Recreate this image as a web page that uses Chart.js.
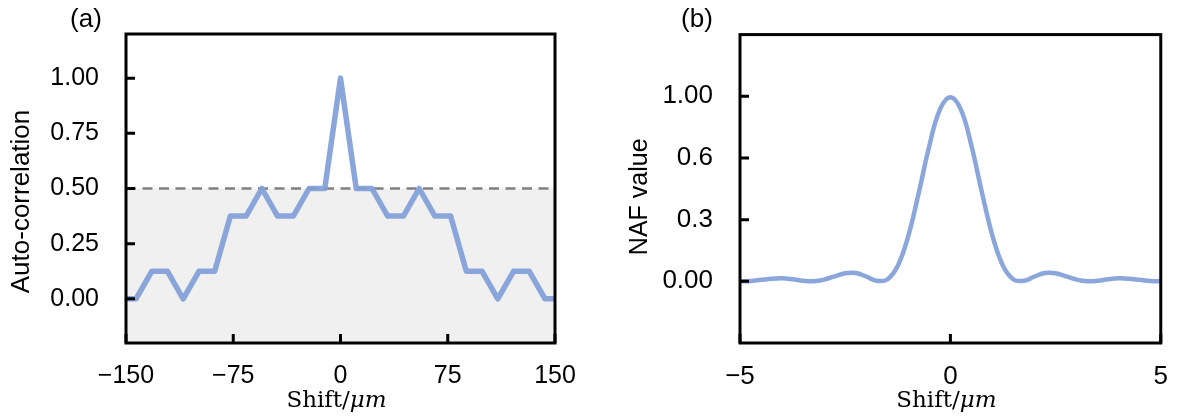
<!DOCTYPE html>
<html>
<head>
<meta charset="utf-8">
<script src="https://cdn.jsdelivr.net/npm/chart.js@4.4.1/dist/chart.umd.min.js"></script>
<style>
  html, body { margin: 0; padding: 0; background: #ffffff; }
  #wrap { position: relative; width: 1178px; height: 418px; overflow: hidden; }
  .panel { position: absolute; top: 0; width: 589px; height: 418px; }
  #pa { left: 0; }
  #pb { left: 589px; }
</style>
</head>
<body>
<div id="wrap">
  <div class="panel" id="pa"><canvas id="chartA" width="589" height="418"></canvas></div>
  <div class="panel" id="pb"><canvas id="chartB" width="589" height="418"></canvas></div>
</div>
<script>
// ---------- Panel (a) data ----------
const shiftA = [-150, -143, -132, -121, -110, -99, -88, -77, -66, -55, -44, -33, -22, -11, 0,
                11, 22, 33, 44, 55, 66, 77, 88, 99, 110, 121, 132, 143, 150];
const autoCorr = [0, 0, 0.125, 0.125, 0, 0.125, 0.125, 0.375, 0.375, 0.5, 0.375, 0.375, 0.5, 0.5, 1.0,
                  0.5, 0.5, 0.375, 0.375, 0.5, 0.375, 0.375, 0.125, 0.125, 0, 0.125, 0.125, 0, 0];
const xTicksA = [-150, -75, 0, 75, 150];
const yTicksA = [0, 0.25, 0.5, 0.75, 1.0];
const yTickLabelsA = ['0.00', '0.25', '0.50', '0.75', '1.00'];
const thresholdA = 0.5;

// ---------- Panel (b) data ----------
const shiftB = [-5, -4.75, -4.5, -4.25, -4, -3.75, -3.5, -3.25, -3, -2.75, -2.5, -2.25, -2, -1.75, -1.5, -1.25,
                -1, -0.75, -0.5, -0.25, 0, 0.25, 0.5, 0.75, 1, 1.25, 1.5, 1.75, 2, 2.25, 2.5, 2.75,
                3, 3.25, 3.5, 3.75, 4, 4.25, 4.5, 4.75, 5];
const nafValues = [0.000, 0.002, 0.008, 0.014, 0.016, 0.011, 0.003, 0.000, 0.009, 0.027, 0.044, 0.045, 0.026, 0.003, 0.010, 0.084,
                   0.246, 0.480, 0.733, 0.928, 0.995, 0.928, 0.733, 0.480, 0.246, 0.084, 0.010, 0.003, 0.026, 0.045, 0.044, 0.027,
                   0.009, 0.000, 0.003, 0.011, 0.016, 0.014, 0.008, 0.002, 0.000];
const xTicksB = [-5, 0, 5];
const yTicksB = [0, 1/3, 2/3, 1];
const yTickLabelsB = ['0.00', '0.3', '0.6', '1.00'];

const LINE_COLOR = 'rgba(128,158,216,0.92)';
const SANS = '"Liberation Sans", Arial, Helvetica, sans-serif';
const SERIF = '"DejaVu Serif", "Liberation Serif", serif';

function minusFmt(v) { return String(v).replace('-', '\u2212'); }

// Frame, inward ticks, panel letter and axis titles
function decorPlugin(cfg) {
  return {
    id: 'decor',
    beforeDatasetsDraw(chart) {
      const ctx = chart.ctx, a = chart.chartArea, ys = chart.scales.y;
      if (cfg.shadeBelow !== undefined) {
        const yTop = ys.getPixelForValue(cfg.shadeBelow);
        ctx.save();
        ctx.fillStyle = '#f0f0f0';
        ctx.fillRect(a.left, yTop, a.right - a.left, a.bottom - yTop);
        ctx.strokeStyle = '#808080';
        ctx.lineWidth = 2.5;
        ctx.setLineDash([10, 6.5]);
        ctx.beginPath();
        ctx.moveTo(a.left, yTop);
        ctx.lineTo(a.right, yTop);
        ctx.stroke();
        ctx.restore();
      }
    },
    afterDatasetsDraw(chart) {
      const ctx = chart.ctx, a = chart.chartArea;
      const xs = chart.scales.x, ys = chart.scales.y;
      ctx.save();
      ctx.strokeStyle = '#000';
      ctx.lineWidth = 3;
      ctx.lineCap = 'butt';
      // inward ticks
      ctx.beginPath();
      xs.ticks.forEach(t => {
        const px = xs.getPixelForValue(t.value);
        ctx.moveTo(px, a.bottom);
        ctx.lineTo(px, a.bottom - 9);
      });
      ys.ticks.forEach(t => {
        const py = ys.getPixelForValue(t.value);
        ctx.moveTo(a.left, py);
        ctx.lineTo(a.left + 9, py);
      });
      ctx.stroke();
      // frame
      ctx.strokeRect(a.left, a.top, a.right - a.left, a.bottom - a.top);
      ctx.restore();

      // texts
      ctx.save();
      ctx.fillStyle = '#000';
      // panel letter
      ctx.font = '26px ' + SANS;
      ctx.textAlign = 'center';
      ctx.textBaseline = 'alphabetic';
      ctx.fillText(cfg.letter, a.left + cfg.letterDx, 27);
      // y title
      ctx.save();
      ctx.font = cfg.yTitleSize + 'px ' + SANS;
      ctx.translate(cfg.yTitleX, (a.top + a.bottom) / 2 + cfg.yTitleDy);
      ctx.rotate(-Math.PI / 2);
      ctx.textAlign = 'center';
      ctx.textBaseline = 'middle';
      ctx.fillText(cfg.yTitle, 0, 0);
      ctx.restore();
      // x title: "Shift/" upright + "μm" italic
      const part1 = 'Shift/', part2 = '\u03BCm';
      const fs = 23;
      ctx.font = fs + 'px ' + SERIF;
      const w1 = ctx.measureText(part1).width;
      ctx.font = 'italic ' + fs + 'px ' + SERIF;
      const w2 = ctx.measureText(part2).width;
      const cx = (a.left + a.right) / 2 + cfg.xTitleDx;
      let x0 = cx - (w1 + w2) / 2;
      ctx.textAlign = 'left';
      ctx.textBaseline = 'alphabetic';
      ctx.font = fs + 'px ' + SERIF;
      ctx.fillText(part1, x0, 407);
      ctx.font = 'italic ' + fs + 'px ' + SERIF;
      ctx.fillText(part2, x0 + w1, 407);
      ctx.restore();
    }
  };
}

function makeChart(id, xs, ys, opt) {
  const points = xs.map((x, i) => ({ x: x, y: ys[i] }));
  return new Chart(document.getElementById(id), {
    type: 'line',
    data: {
      datasets: [{
        data: points,
        borderColor: LINE_COLOR,
        borderWidth: opt.lineWidth,
        pointRadius: 0,
        fill: false,
        tension: opt.tension,
        borderJoinStyle: 'round',
        borderCapStyle: 'butt'
      }]
    },
    options: {
      responsive: false,
      animation: false,
      events: [],
      layout: { padding: { top: 30, right: opt.padRight, left: 0, bottom: 0 } },
      plugins: { legend: { display: false }, tooltip: { enabled: false }, title: { display: false } },
      scales: {
        x: {
          type: 'linear',
          min: opt.xMin, max: opt.xMax,
          grid: { display: false },
          border: { display: false },
          afterBuildTicks: s => { s.ticks = opt.xTicks.map(v => ({ value: v })); },
          afterFit: s => { s.height = 75; },
          ticks: {
            color: '#000',
            font: { family: SANS, size: opt.tickSize },
            padding: 10,
            maxRotation: 0,
            autoSkip: false,
            callback: v => minusFmt(v)
          }
        },
        y: {
          type: 'linear',
          min: opt.yMin, max: opt.yMax,
          grid: { display: false },
          border: { display: false },
          afterBuildTicks: s => { s.ticks = opt.yTicks.map(v => ({ value: v })); },
          afterFit: s => { s.width = opt.yWidth; },
          ticks: {
            color: '#000',
            font: { family: SANS, size: opt.tickSize },
            padding: 19,
            autoSkip: false,
            callback: (v, i) => opt.yLabels[i]
          }
        }
      }
    },
    plugins: [decorPlugin(opt.decor)]
  });
}

makeChart('chartA', shiftA, autoCorr, {
  lineWidth: 5.5, tension: 0, padRight: 34, yWidth: 126,
  xMin: -150, xMax: 150, yMin: -0.2, yMax: 1.2,
  xTicks: xTicksA, yTicks: yTicksA, yLabels: yTickLabelsA, tickSize: 25,
  decor: { letter: '(a)', letterDx: -40, yTitle: 'Auto-correlation', yTitleSize: 26, yTitleX: 22, yTitleDy: 13,
           xTitleDx: -4, shadeBelow: thresholdA }
});

makeChart('chartB', shiftB, nafValues, {
  lineWidth: 4.5, tension: 0.4, padRight: 10, yWidth: 151,
  xMin: -5, xMax: 5, yMin: -1/3, yMax: 4/3,
  xTicks: xTicksB, yTicks: yTicksB, yLabels: yTickLabelsB, tickSize: 26,
  decor: { letter: '(b)', letterDx: -43, yTitle: 'NAF value', yTitleSize: 25, yTitleX: 51, yTitleDy: 8,
           xTitleDx: -4 }
});
</script>
</body>
</html>
